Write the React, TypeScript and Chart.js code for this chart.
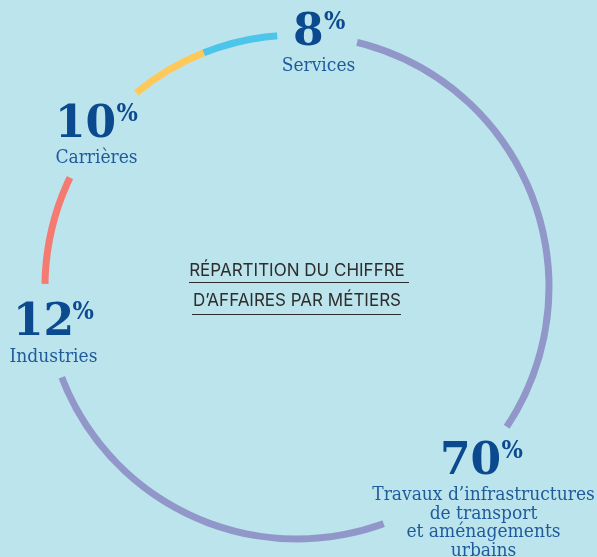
import React, { useEffect, useRef } from 'react';
import { Chart, registerables } from 'chart.js';

Chart.register(...registerables);

// ---- data ----
const CATEGORIES = [
  'Travaux d’infrastructures de transport et aménagements urbains',
  'Industries',
  'Carrières',
  'Services',
];
const VALUES = [70, 12, 10, 8];
const LABEL_LINES = [
  ['Travaux d’infrastructures', 'de transport', 'et aménagements', 'urbains'],
  ['Industries'],
  ['Carrières'],
  ['Services'],
];
const TITLE_LINES = ['RÉPARTITION DU CHIFFRE', 'D’AFFAIRES PAR MÉTIERS'];

// ---- styles ----
const COLORS = ['#9198c9', '#f47a72', '#fec85a', '#4cc5eb'];
const BG = '#bce4ec';
const NUM_COLOR = '#0b4a8f';
const LABEL_COLOR = '#1f5b9b';
const TITLE_COLOR = '#2d2d2d';
const BIG_FONT = "bold 44px 'DejaVu Serif', serif";
const PCT_FONT = "bold 25px 'DejaVu Serif Condensed', 'DejaVu Serif', serif";
const LABEL_FONT = "19px 'DejaVu Serif Condensed', 'DejaVu Serif', serif";
const TITLE_FONT = "17px Inter, 'Noto Sans', sans-serif";

// label placement per category (same order as data)
const PLACEMENT = [
  { numLeft: 443, numBase: 474, cx: 483.5, base: 500, lh: 18.5 },
  { numLeft: 18, numBase: 335, cx: 53.5, base: 361.5, lh: 18.5 },
  { numLeft: 60, numBase: 137, cx: 96.5, base: 163, lh: 18.5 },
  { numLeft: 295, numBase: 45, cx: 318.5, base: 71, lh: 18.5 },
];
// visible portions of the ring (degrees clockwise from 12 o'clock)
const VISIBLE = [
  [13.8, 123.7],
  [159.9, 249],
  [270.7, 295.7],
  [320.4, 355.5],
];

const toRad = (d: number) => ((d - 90) * Math.PI) / 180;

const clipPlugin = {
  id: 'ringClip',
  beforeDatasetsDraw(chart: any) {
    const ctx = chart.ctx;
    const arc = chart.getDatasetMeta(0).data[0] as any;
    if (!arc) return;
    const { x, y, outerRadius } = arc;
    ctx.save();
    ctx.beginPath();
    VISIBLE.forEach(([a, b]) => {
      ctx.moveTo(x, y);
      ctx.arc(x, y, outerRadius + 6, toRad(a), toRad(b));
      ctx.closePath();
    });
    ctx.clip();
  },
  afterDatasetsDraw(chart: any) {
    chart.ctx.restore();
  },
};

const bgPlugin = {
  id: 'bgFill',
  beforeDraw(chart: any) {
    const ctx = chart.ctx;
    ctx.save();
    ctx.fillStyle = BG;
    ctx.fillRect(0, 0, chart.width, chart.height);
    ctx.restore();
  },
};

function drawNumber(ctx: CanvasRenderingContext2D, value: number, left: number, base: number) {
  const digits = String(value);
  ctx.font = BIG_FONT;
  ctx.textAlign = 'left';
  ctx.textBaseline = 'alphabetic';
  const m = ctx.measureText(digits);
  const x0 = left + m.actualBoundingBoxLeft;
  ctx.fillText(digits, x0, base);
  const top = base - m.actualBoundingBoxAscent;
  const right = x0 + m.actualBoundingBoxRight;
  ctx.font = PCT_FONT;
  const p = ctx.measureText('%');
  ctx.fillText('%', right + 2 + p.actualBoundingBoxLeft, top + p.actualBoundingBoxAscent);
}

const textPlugin = {
  id: 'labelsText',
  afterDraw(chart: any) {
    const ctx: CanvasRenderingContext2D = chart.ctx;
    ctx.save();
    VALUES.forEach((v, i) => {
      const pl = PLACEMENT[i];
      ctx.fillStyle = NUM_COLOR;
      drawNumber(ctx, v, pl.numLeft, pl.numBase);
      ctx.fillStyle = LABEL_COLOR;
      ctx.font = LABEL_FONT;
      ctx.textAlign = 'center';
      ctx.textBaseline = 'alphabetic';
      LABEL_LINES[i].forEach((line, j) => {
        ctx.fillText(line, pl.cx, pl.base + j * pl.lh);
      });
    });
    // title
    ctx.fillStyle = TITLE_COLOR;
    ctx.font = TITLE_FONT;
    ctx.textAlign = 'center';
    ctx.fillText(TITLE_LINES[0], 297, 275.5);
    ctx.fillText(TITLE_LINES[1], 297, 305.5);
    ctx.strokeStyle = TITLE_COLOR;
    ctx.lineWidth = 1;
    ctx.beginPath();
    ctx.moveTo(189, 282.5);
    ctx.lineTo(409, 282.5);
    ctx.moveTo(192, 314.5);
    ctx.lineTo(401, 314.5);
    ctx.stroke();
    ctx.restore();
  },
};

export default function App() {
  const ref = useRef<HTMLCanvasElement>(null);
  useEffect(() => {
    if (!ref.current) return;
    const chart = new Chart(ref.current, {
      type: 'doughnut',
      data: {
        labels: CATEGORIES,
        datasets: [
          {
            data: VALUES,
            backgroundColor: COLORS,
            borderWidth: 0,
          },
        ],
      },
      options: {
        responsive: false,
        animation: false,
        events: [],
        rotation: 7.1,
        radius: 255.5,
        cutout: '97.26%',
        layout: { padding: { left: 0, right: 3, top: 17, bottom: 0 } },
        plugins: {
          legend: { display: false },
          tooltip: { enabled: false },
        },
      },
      plugins: [bgPlugin, clipPlugin, textPlugin],
    } as any);
    return () => chart.destroy();
  }, []);
  return (
    <div style={{ position: 'fixed', left: 0, top: 0, width: 597, height: 557, background: BG }}>
      <canvas ref={ref} width={597} height={557} style={{ display: 'block' }} />
    </div>
  );
}
